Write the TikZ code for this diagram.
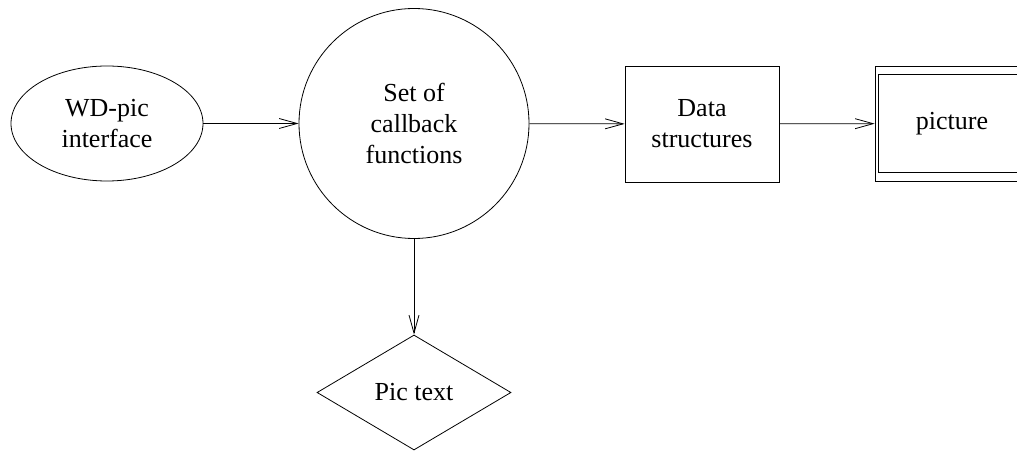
\documentclass[tikz,border=0pt]{standalone}
\usepackage{fontspec}
\setmainfont{Liberation Serif}
\usetikzlibrary{shapes.geometric,arrows.meta}
\tikzset{
  base/.style={draw, line width=0.8pt, inner sep=0pt, align=center,
    font=\fontsize{26}{31}\selectfont},
  flow/.style={line width=0.8pt, -{Straight Barb[length=18pt,width=10pt,line width=0.8pt]}},
}
\begin{document}
\begin{tikzpicture}[x=1pt,y=-1pt]
\useasboundingbox (0,0) rectangle (1017,454);
\clip (0,0) rectangle (1017,454);
% nodes
\node[base, ellipse, minimum width=192pt, minimum height=115pt] (wd) at (107,123.5) {WD-pic\\interface};
\node[base, circle, minimum size=230pt] (cb) at (414,123.5) {Set of\\callback\\functions};
\node[base, rectangle, minimum width=154pt, minimum height=116pt] (ds) at (702,124) {Data\\structures};
\node[base, rectangle, minimum width=154pt, minimum height=115pt] (pic) at (952,123.5) {picture};
\draw[line width=0.8pt] ([xshift=4pt,yshift=-9pt]pic.north west) rectangle ([xshift=-4pt,yshift=9pt]pic.south east);
\node[base, diamond, minimum width=194pt, minimum height=115pt] (pt) at (414,392.5) {Pic text};
% connectors
\draw[flow] (wd) -- (cb);
\draw[flow] (cb) -- (ds);
\draw[flow] (ds) -- (pic);
\draw[flow] (cb) -- (pt);
\end{tikzpicture}
\end{document}
